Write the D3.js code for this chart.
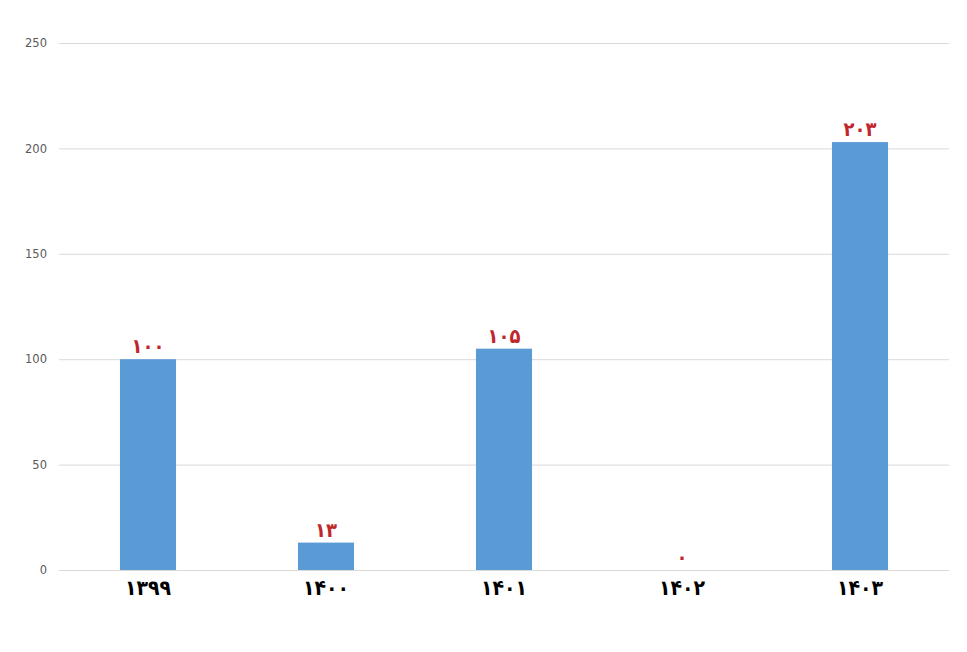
<!DOCTYPE html>
<html><head><meta charset="utf-8">
<script src="https://cdn.jsdelivr.net/npm/d3@7"></script>
<style>body{margin:0;background:#fff;}svg{display:block;}</style>
</head><body>
<script>
const categories = ["۱۳۹۹", "۱۴۰۰", "۱۴۰۱", "۱۴۰۲", "۱۴۰۳"];
const values = [100, 13, 105, 0, 203];
const yTicks = [0, 50, 100, 150, 200, 250];

const W = 967, H = 652;
const margin = {left: 59, right: 18, top: 43, bottom: 82};
const svg = d3.select("body").append("svg").attr("width", W).attr("height", H);

const x = d3.scaleBand().domain(categories).range([margin.left, W - margin.right])
  .paddingInner(0.685).paddingOuter(0.3425);
const y = d3.scaleLinear().domain([0, 250]).range([H - margin.bottom, margin.top]);

const toFa = n => String(n).replace(/\d/g, d => "۰۱۲۳۴۵۶۷۸۹"[+d]);
const arFont = "'DejaVu Sans Condensed', 'DejaVu Sans', sans-serif";

// gridlines
svg.append("g").selectAll("line").data(yTicks).join("line")
  .attr("x1", margin.left).attr("x2", W - margin.right)
  .attr("y1", d => y(d) + 0.5).attr("y2", d => y(d) + 0.5)
  .attr("stroke", "#d9d9d9").attr("stroke-width", 1);

// y axis labels
const yAxis = d3.axisLeft(y).tickValues(yTicks).tickSize(0).tickPadding(12);
const gy = svg.append("g").attr("transform", `translate(${margin.left},0)`).call(yAxis);
gy.select(".domain").remove();
gy.selectAll("text").attr("font-family", "DejaVu Sans, sans-serif").attr("font-size", 11.5).attr("fill", "#595959");

// bars
svg.append("g").selectAll("rect").data(values).join("rect")
  .attr("x", (d, i) => x(categories[i])).attr("width", x.bandwidth())
  .attr("y", d => y(d)).attr("height", d => y(0) - y(d))
  .attr("fill", "#5b9bd5");

// value labels
svg.append("g").selectAll("text").data(values).join("text")
  .attr("x", (d, i) => x(categories[i]) + x.bandwidth() / 2)
  .attr("y", d => y(d) - 6)
  .attr("text-anchor", "middle")
  .attr("font-family", arFont).attr("font-weight", "bold")
  .attr("font-size", 20).attr("fill", "#c0272d")
  .text(d => toFa(d));

// x axis labels
const xAxis = d3.axisBottom(x).tickSize(0).tickPadding(10);
const gx = svg.append("g").attr("transform", `translate(0,${y(0)})`).call(xAxis);
gx.select(".domain").remove();
gx.selectAll("text").attr("font-family", arFont).attr("font-weight", "bold")
  .attr("font-size", 21).attr("fill", "#000");
</script>
</body></html>
